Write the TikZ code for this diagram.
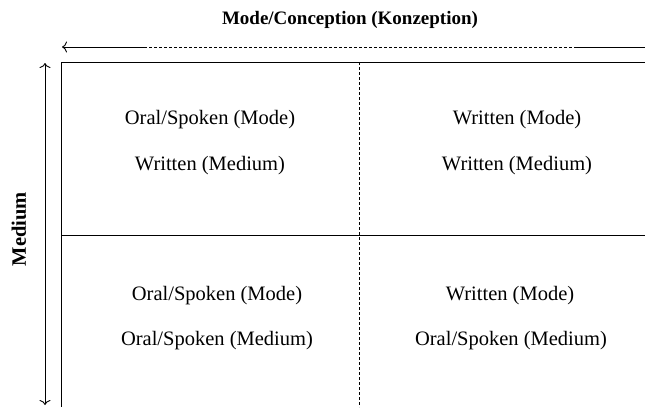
\documentclass[tikz,border=0pt]{standalone}
\usepackage{fontspec}
\setmainfont{Liberation Serif}
\usetikzlibrary{arrows.meta}
\tikzset{celltext/.style={font=\fontsize{20.5}{24}\selectfont,inner sep=0pt},
  headtext/.style={font=\fontsize{19}{22}\selectfont\bfseries,inner sep=0pt},
  dashline/.style={dash pattern=on 3pt off 2pt}}

\begin{document}
\begin{tikzpicture}[x=1pt,y=-1pt,line width=0.9pt,>={To[length=5pt,width=11pt]}]
 \useasboundingbox (0,0) rectangle (645,407);
 \coordinate (a1) at (645,47);
 \coordinate (a2) at (577,47);
 \coordinate (a3) at (144,47);
 \coordinate (a4) at (62,47);
 \coordinate (m1) at (45,63);
 \coordinate (m2) at (45,405);
 \coordinate (tl) at (61,62);
 \coordinate (tr) at (645,62);
 \coordinate (bl) at (61,407);
 \coordinate (ml) at (61,235);
 \coordinate (mr) at (645,235);
 \coordinate (vt) at (359,62);
 \coordinate (vb) at (359,407);
 \node[headtext] (mode) at (350,20) {Mode/Conception (Konzeption)};
 \node[headtext,font=\fontsize{20.5}{24}\selectfont\bfseries,rotate=90] (medium) at (19,229) {Medium};
 \draw (a1) -- (a2);
 \draw[dashline] (a2) -- (a3);
 \draw[->] (a3) -- (a4);
 \draw[<->] (m1) -- (m2);
 \draw (tr) -- (tl) -- (bl);
 \draw (ml) -- (mr);
 \draw[dashline] (vt) -- (vb);
 \node[celltext] (tlmode) at (210,120) {Oral/Spoken (Mode)};
 \node[celltext] (tlmed) at (210,166) {Written (Medium)};
 \node[celltext] (trmode) at (517,120) {Written (Mode)};
 \node[celltext] (trmed) at (517,166) {Written (Medium)};
 \node[celltext] (blmode) at (217,296) {Oral/Spoken (Mode)};
 \node[celltext] (blmed) at (217,341) {Oral/Spoken (Medium)};
 \node[celltext] (brmode) at (510,296) {Written (Mode)};
 \node[celltext] (brmed) at (511,341) {Oral/Spoken (Medium)};
\end{tikzpicture}
\end{document}
